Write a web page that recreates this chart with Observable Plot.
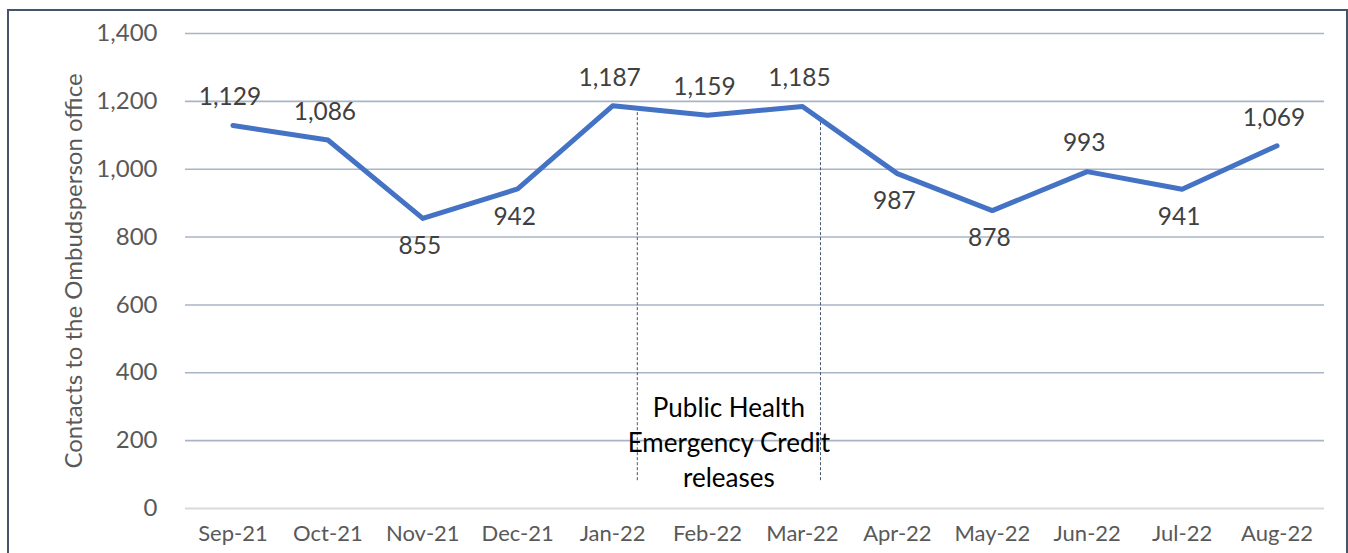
<!DOCTYPE html>
<html>
<head>
<meta charset="utf-8">
<script src="https://cdn.jsdelivr.net/npm/d3@7"></script>
<script src="https://cdn.jsdelivr.net/npm/@observablehq/plot@0.6"></script>
<style>
  html, body { margin: 0; padding: 0; background: #fff; }
  #wrap { position: relative; width: 1348px; height: 553px; overflow: hidden; }
  #border { position: absolute; left: 7px; top: 9px; width: 1337px; height: 600px; border: 2px solid #44546a; pointer-events: none; }
</style>
</head>
<body>
<div id="wrap"><div id="border"></div><div id="chart"></div></div>
<script>
const months = ["Sep-21","Oct-21","Nov-21","Dec-21","Jan-22","Feb-22","Mar-22","Apr-22","May-22","Jun-22","Jul-22","Aug-22"];
const contacts = [1129, 1086, 855, 942, 1187, 1159, 1185, 987, 878, 993, 941, 1069];
const labelsBelow = ["Nov-21","Dec-21","Apr-22","May-22","Jul-22"];
const yTicks = [0, 200, 400, 600, 800, 1000, 1200, 1400];
const releaseMarkers = [4.26, 6.19];   // position along the month axis
const releaseBottom = 82;
const annotationText = "Public Health\nEmergency Credit\nreleases";
const annotationY = 200;

const data = months.map((m, i) => ({month: m, i, value: contacts[i], below: labelsBelow.includes(m)}));
const valueAt = (t) => {
  const a = Math.floor(t), f = t - a;
  return contacts[a] + (contacts[a + 1] - contacts[a]) * f;
};
const markers = releaseMarkers.map(t => ({x: t, y1: releaseBottom, y2: valueAt(t)}));
const fmt = d3.format(",");

const plot = Plot.plot({
  width: 1348,
  height: 553,
  marginLeft: 185,
  marginRight: 24,
  marginTop: 33,
  marginBottom: 45,
  style: {fontFamily: "Lato, 'Open Sans', sans-serif", background: "transparent", overflow: "visible"},
  x: {domain: [-0.5, 11.5], axis: null},
  y: {domain: [0, 1400], axis: null},
  marks: [
    Plot.ruleY(yTicks.filter(d => d > 0), {stroke: "#a9b5c6", strokeWidth: 1.6}),
    Plot.ruleY([0], {stroke: "#d9d9d9", strokeWidth: 2}),
    Plot.axisY({ticks: yTicks, tickSize: 0, tickPadding: 28, tickFormat: fmt, fontSize: 24, color: "#595959",
      label: "Contacts to the Ombudsperson office", labelAnchor: "center", labelArrow: "none", labelOffset: 121}),
    Plot.axisX({ticks: d3.range(months.length), tickFormat: i => months[i], tickSize: 0, tickPadding: 17, fontSize: 22, color: "#595959", label: null}),
    Plot.ruleX(markers, {x: "x", y1: "y1", y2: "y2", stroke: "#44546a", strokeWidth: 1, strokeDasharray: "3,2"}),
    Plot.line(data, {x: "i", y: "value", stroke: "#4472c4", strokeWidth: 5, strokeLinejoin: "round"}),
    Plot.text(data.filter(d => !d.below), {x: "i", y: "value", text: d => fmt(d.value), dy: -28, dx: -3, fontSize: 24.5, fill: "#404040", lineAnchor: "middle"}),
    Plot.text(data.filter(d => d.below), {x: "i", y: "value", text: d => fmt(d.value), dy: 28, dx: -3, fontSize: 24.5, fill: "#404040", lineAnchor: "middle"}),
    Plot.text([annotationText], {x: (releaseMarkers[0] + releaseMarkers[1]) / 2, y: annotationY, text: d => d, fontSize: 26, fill: "#000", lineAnchor: "middle", lineHeight: 1.35})
  ]
});
document.getElementById("chart").appendChild(plot);
</script>
</body>
</html>
